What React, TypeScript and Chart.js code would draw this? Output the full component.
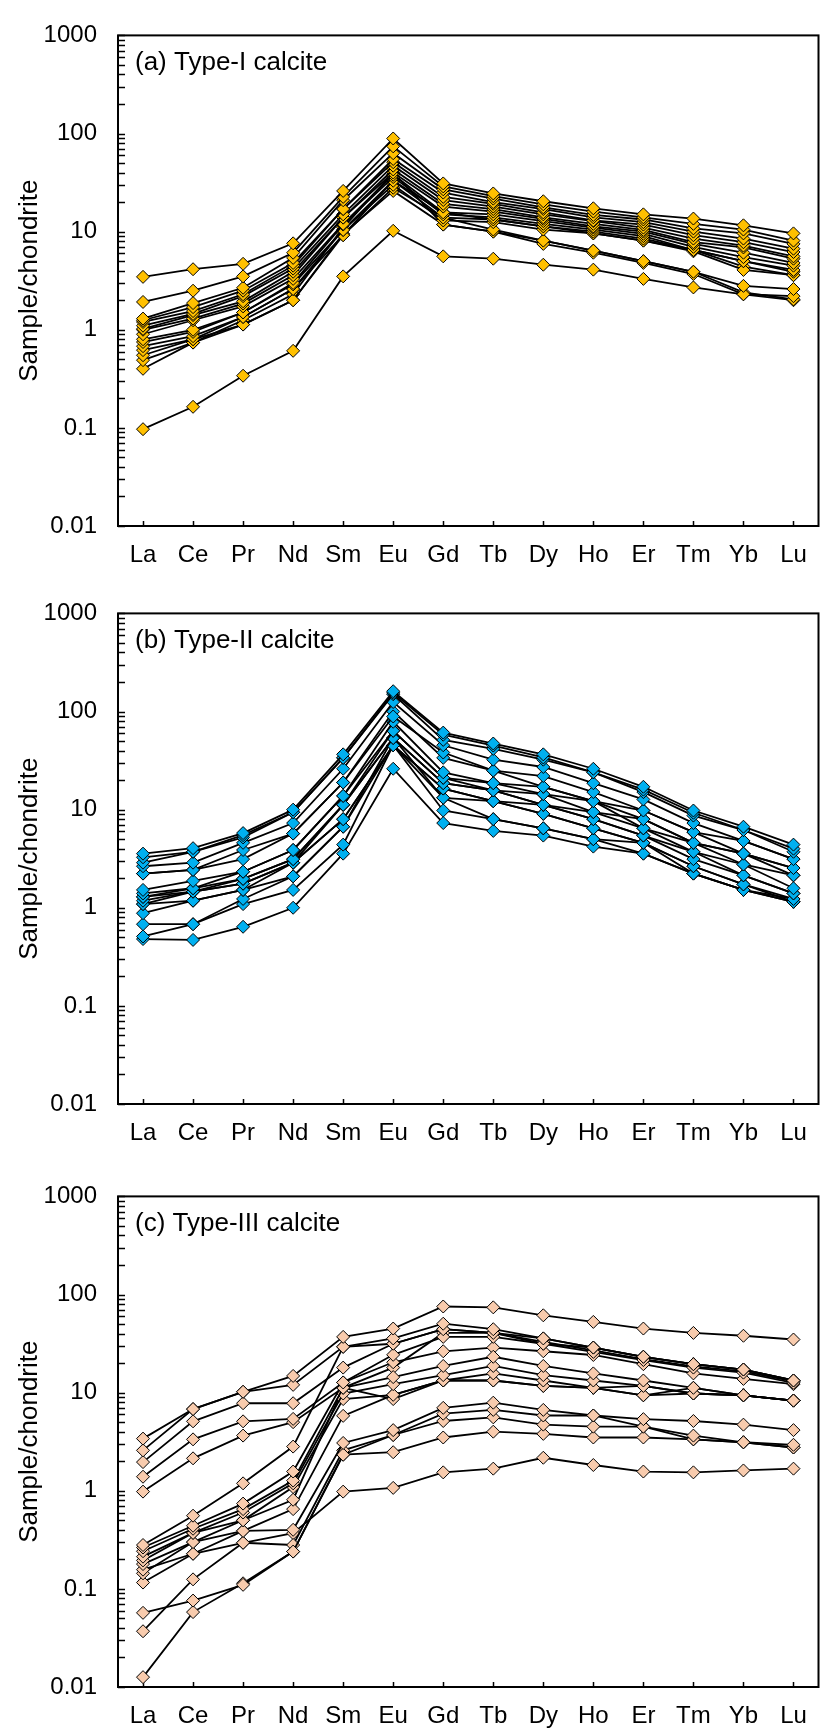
import React, { useEffect, useRef } from "react";
import { Chart, registerables } from "chart.js";

Chart.register(...registerables);

// ---------- data ----------
const REE = ["La", "Ce", "Pr", "Nd", "Sm", "Eu", "Gd", "Tb", "Dy", "Ho", "Er", "Tm", "Yb", "Lu"];

const Y_TICK_VALUES = [0.01, 0.1, 1, 10, 100, 1000];
const Y_TICK_LABELS = ["0.01", "0.1", "1", "10", "100", "1000"];
const Y_MINOR_STEPS = [2, 3, 4, 5, 6, 7, 8, 9];

const PANEL_TITLES = ["(a) Type-I calcite", "(b) Type-II calcite", "(c) Type-III calcite"];
const Y_TITLE = "Sample/chondrite";

// Type-I calcite (chondrite-normalised)
const typeI: number[][] = [
  [3.46, 4.14, 4.7, 7.6, 26, 89, 31, 24.5, 20.4, 17.3, 15, 13.6, 11.6, 9.6],
  [1.92, 2.5, 3.5, 6.1, 22.6, 74, 28.9, 23, 19, 16, 14, 12, 10.5, 8.1],
  [1.3, 1.87, 2.68, 5.4, 20.9, 63, 27, 21.7, 17.7, 14.8, 13.3, 10.8, 9.6, 7.5],
  [1.25, 1.7, 2.5, 4.8, 17, 55, 25, 20, 17, 14, 12.5, 10, 8.5, 6.7],
  [1.2, 1.55, 2.3, 4.5, 17, 51, 22.6, 19.2, 15.7, 13, 11.8, 9.2, 7.8, 6.2],
  [1.1, 1.45, 2.2, 4.2, 15, 47, 21, 18, 15, 12.8, 11, 8.5, 7.2, 5.6],
  [1.02, 1.41, 1.95, 3.9, 13.9, 43, 19.2, 17, 14, 12, 10.4, 7.8, 6.9, 5.3],
  [1.0, 1.3, 1.85, 3.6, 13.9, 40, 18, 16, 13.5, 11.3, 10, 7.5, 6.1, 4.8],
  [0.9, 1.25, 1.73, 3.3, 12, 38, 15.7, 15, 12.8, 11, 9.5, 7, 5.5, 4.5],
  [0.8, 1.0, 1.5, 3.0, 11.8, 36, 15, 14, 12, 10.5, 9, 6.5, 5.0, 4.07],
  [0.75, 0.95, 1.5, 2.9, 10.4, 33, 13.9, 13.3, 11.3, 10, 8.5, 6.5, 5, 3.9],
  [0.68, 0.86, 1.35, 2.6, 10.4, 30, 13, 12.5, 10.5, 9.6, 8.1, 6.3, 4.07, 3.6],
  [0.62, 0.8, 1.35, 2.6, 9.2, 33, 15.7, 13.3, 11.3, 9.6, 8.1, 6.5, 4.4, 3.6],
  [0.55, 0.8, 1.13, 2.0, 9.2, 28, 13.9, 10.5, 8.1, 6.4, 5.0, 3.9, 2.8, 2.6],
  [0.49, 0.74, 1.13, 2.0, 9.5, 26, 11.8, 10, 7.5, 6.1, 4.8, 3.7, 2.3, 2.2],
  [0.4, 0.74, 1.25, 2.3, 11, 40, 11.8, 10, 8.1, 6.4, 5.0, 3.9, 2.4, 2.04],
  [0.097, 0.164, 0.34, 0.61, 3.5, 10.2, 5.6, 5.3, 4.6, 4.1, 3.3, 2.7, 2.3, 2.0],
];

// Type-II calcite
const typeII: number[][] = [
  [3.56, 4.05, 5.77, 10, 36.6, 161, 61, 47.2, 36.6, 26.1, 17.1, 9.8, 6.7, 4.4],
  [3.27, 3.72, 5.5, 9.4, 33.7, 155, 58, 45, 34, 24, 16, 9.3, 6.2, 4.0],
  [2.88, 3.72, 5.21, 9.4, 33.7, 150, 51.4, 41.6, 32.3, 24, 15.1, 8.7, 6.2, 3.72],
  [2.65, 2.88, 4.59, 7.3, 26.1, 125, 45.3, 32.3, 27.2, 18.6, 12.7, 7.3, 4.8, 3.13],
  [2.23, 2.43, 3.88, 5.7, 18.9, 89, 38.2, 25, 22, 15.1, 9.8, 5.9, 3.56, 2.54],
  [2.23, 2.43, 3.13, 5.7, 18.9, 100, 33.7, 25, 17.1, 12.2, 8.0, 4.59, 3.56, 2.14],
  [1.52, 1.88, 2.33, 3.88, 13.8, 78.6, 24, 18.6, 17.1, 12.2, 9.8, 5.9, 4.8, 3.13],
  [1.4, 1.58, 2.33, 3.88, 13.8, 63.6, 21.1, 18.6, 14.4, 9.44, 8.0, 4.59, 2.76, 2.14],
  [1.29, 1.58, 1.97, 3.13, 11.2, 63.6, 21.1, 15.7, 14.4, 12.2, 6.45, 4.59, 3.56, 2.54],
  [1.29, 1.46, 1.97, 3.13, 11.2, 53.7, 18.6, 15.7, 11.2, 9.44, 6.45, 3.72, 2.76, 1.58],
  [1.18, 1.46, 1.76, 2.88, 11.2, 53.7, 18.6, 15.7, 11.2, 8.0, 5.44, 3.72, 2.14, 1.4],
  [1.09, 1.46, 1.76, 2.88, 8.0, 45.3, 16.4, 12.2, 11.2, 8.0, 5.44, 3.13, 2.14, 1.4],
  [1.09, 1.18, 1.52, 2.88, 8.0, 45.3, 16.4, 12.2, 9.06, 6.45, 4.59, 2.65, 1.73, 1.23],
  [0.88, 1.18, 1.52, 2.09, 6.7, 53.7, 13.2, 12.2, 9.06, 6.45, 4.59, 2.65, 1.73, 1.15],
  [0.68, 0.68, 1.23, 2.09, 6.7, 45.3, 13.2, 8.0, 6.45, 5.0, 4.59, 2.23, 1.52, 1.23],
  [0.51, 0.68, 1.09, 1.52, 4.4, 45.3, 9.8, 8.0, 6.45, 5.0, 3.56, 2.23, 1.52, 1.15],
  [0.48, 0.47, 0.64, 1.0, 3.56, 26.1, 7.3, 6.07, 5.44, 4.2, 3.56, 2.23, 1.52, 1.15],
];

// Type-III calcite
const typeIII: number[][] = [
  [3.4, 6.8, 10.2, 14.8, 37, 45, 75.5, 74, 61.4, 52.6, 45, 40.6, 38, 34.8],
  [2.58, 6.8, 10.2, 12, 29.3, 35.7, 50.4, 44.3, 35.7, 28.8, 23.2, 19.5, 17.2, 13.3],
  [1.96, 5.1, 7.8, 7.8, 18, 31.5, 44.3, 40.6, 31.5, 28.8, 23.2, 19.5, 17.2, 13.3],
  [1.39, 3.34, 5.1, 5.4, 12.7, 24.3, 37, 37, 31.5, 26, 21.5, 18, 16, 12.6],
  [0.98, 2.14, 3.65, 5.0, 11.2, 14.4, 18.7, 23.2, 18.7, 15.7, 13.3, 11.2, 9.4, 8.3],
  [0.28, 0.557, 1.19, 2.82, 29.3, 31.5, 44.3, 40.6, 35.7, 28.8, 23.2, 19.5, 17.2, 13.3],
  [0.264, 0.44, 0.74, 1.57, 12.7, 20.4, 26.4, 28.8, 26.4, 24.2, 19.5, 15.7, 13.8, 12.2],
  [0.242, 0.41, 0.65, 1.27, 11.2, 18, 40.6, 40.6, 33, 27, 22, 18.5, 16.5, 13],
  [0.213, 0.372, 0.6, 1.19, 9.8, 12.2, 15.1, 18.7, 15.1, 13.3, 11.7, 9.8, 9.4, 8.3],
  [0.195, 0.372, 0.5, 1.09, 8.6, 9.5, 13.3, 15.7, 13.3, 11.2, 9.4, 9.8, 9.4, 8.3],
  [0.179, 0.3, 0.5, 0.81, 11.2, 8.6, 13.3, 13.3, 11.7, 11.2, 9.4, 11.2, 9.4, 8.3],
  [0.157, 0.228, 0.39, 0.65, 5.8, 9.5, 13.3, 13.3, 11.7, 11.2, 11.7, 9.8, 9.4, 8.3],
  [0.144, 0.3, 0.39, 0.4, 3.07, 4.15, 7, 7.9, 6.67, 5.85, 5.37, 5.14, 4.72, 4.15],
  [0.057, 0.076, 0.11, 0.24, 2.33, 3.7, 6.1, 6.67, 5.85, 5.85, 4.5, 3.65, 3.12, 2.94],
  [0.037, 0.125, 0.295, 0.28, 2.58, 3.7, 5.14, 5.6, 4.72, 4.5, 4.5, 3.34, 3.12, 2.76],
  [0.0126, 0.058, 0.114, 0.24, 2.33, 2.47, 3.49, 4.0, 3.8, 3.49, 3.49, 3.34, 3.12, 2.76],
  [0.116, 0.228, 0.295, 0.37, 0.98, 1.07, 1.54, 1.68, 2.17, 1.83, 1.57, 1.54, 1.61, 1.68],
];

const PANEL_DATA = [typeI, typeII, typeIII];
const PANEL_COLORS = ["#FFC000", "#00B0F0", "#F8CBAD"];

// ---------- styling ----------
const FONT = '"Liberation Sans", Arial, Helvetica, sans-serif';

const frameTicksPlugin = {
  id: "frameTicks",
  beforeDatasetsDraw(chart: any, _args: any, opts: any) {
    const { ctx, chartArea } = chart;
    const { left, right, top, bottom } = chartArea;
    const xs = chart.scales.x;
    const ys = chart.scales.y;
    ctx.save();
    ctx.strokeStyle = "#000";
    // y ticks (inside)
    ctx.lineWidth = 1.5;
    ctx.beginPath();
    for (const t of ys.ticks) {
      const y = Math.round(ys.getPixelForValue(t.value)) + 0.5;
      ctx.moveTo(left, y);
      ctx.lineTo(left + 7, y);
    }
    // x ticks (inside)
    for (let i = 0; i < xs.ticks.length; i++) {
      const x = Math.round(xs.getPixelForTick(i)) + 0.5;
      ctx.moveTo(x, bottom);
      ctx.lineTo(x, bottom - 5);
    }
    ctx.stroke();
    // frame
    ctx.lineWidth = 2;
    ctx.strokeRect(left, top, right - left, bottom - top);
    // panel title
    if (opts && opts.title) {
      ctx.fillStyle = "#000";
      ctx.font = `26px ${FONT}`;
      ctx.textAlign = "left";
      ctx.textBaseline = "middle";
      ctx.fillText(opts.title, left + 17, top + 27);
    }
    ctx.restore();
  },
};

function Panel(props: { index: number; top: number; height: number; xAxisHeight: number }) {
  const ref = useRef<HTMLCanvasElement | null>(null);
  const { index, top, height, xAxisHeight } = props;

  useEffect(() => {
    if (!ref.current) return;
    const rows = PANEL_DATA[index];
    const color = PANEL_COLORS[index];
    const chart = new Chart(ref.current, {
      type: "line",
      data: {
        labels: REE,
        datasets: rows.map((r, i) => ({
          label: `S${i + 1}`,
          data: r,
          borderColor: "#000",
          borderWidth: 1.8,
          pointStyle: "rectRot",
          pointRadius: 6.5,
          pointBackgroundColor: color,
          pointBorderColor: "#000",
          pointBorderWidth: 1,
          fill: false,
          tension: 0,
        })),
      },
      options: {
        responsive: false,
        animation: false,
        devicePixelRatio: 1,
        layout: { padding: { top: 23, right: 1, left: 0, bottom: 0 } },
        plugins: {
          legend: { display: false },
          tooltip: { enabled: false },
          frameTicks: { title: PANEL_TITLES[index] },
        } as any,
        scales: {
          x: {
            type: "category",
            offset: true,
            grid: { display: false, drawTicks: false },
            border: { display: false },
            ticks: {
              color: "#000",
              font: { family: FONT, size: 24 },
              padding: 15,
              autoSkip: false,
              maxRotation: 0,
            },
            afterFit: (s: any) => {
              s.height = xAxisHeight;
            },
          },
          y: {
            type: "logarithmic",
            min: Y_TICK_VALUES[0],
            max: Y_TICK_VALUES[Y_TICK_VALUES.length - 1],
            grid: { display: false, drawTicks: false },
            border: { display: false },
            afterBuildTicks: (s: any) => {
              const ticks: any[] = [];
              Y_TICK_VALUES.forEach((v, i) => {
                ticks.push({ value: v, major: true });
                if (i < Y_TICK_VALUES.length - 1) {
                  Y_MINOR_STEPS.forEach((m) => ticks.push({ value: v * m, major: false }));
                }
              });
              s.ticks = ticks;
            },
            ticks: {
              color: "#000",
              font: { family: FONT, size: 24 },
              padding: 21,
              autoSkip: false,
              callback: (v: any) => {
                const k = Y_TICK_VALUES.indexOf(Number(v));
                return k >= 0 ? Y_TICK_LABELS[k] : "";
              },
            },
            title: {
              display: true,
              text: Y_TITLE,
              color: "#000",
              font: { family: FONT, size: 26 },
              padding: { top: 14, bottom: 0 },
            },
            afterFit: (s: any) => {
              s.width = 118;
            },
          },
        },
      } as any,
      plugins: [frameTicksPlugin as any],
    });
    return () => chart.destroy();
  }, [index, xAxisHeight]);

  return (
    <div style={{ position: "absolute", left: 0, top, width: 826, height }}>
      <canvas ref={ref} width={826} height={height} style={{ display: "block", width: 826, height }} />
    </div>
  );
}

export default function App() {
  return (
    <div style={{ position: "absolute", left: 0, top: 0, width: 826, height: 1733, background: "#fff", overflow: "hidden" }}>
      <Panel index={0} top={0} height={578} xAxisHeight={52} />
      <Panel index={1} top={578} height={578} xAxisHeight={52} />
      <Panel index={2} top={1161} height={572} xAxisHeight={46} />
    </div>
  );
}
